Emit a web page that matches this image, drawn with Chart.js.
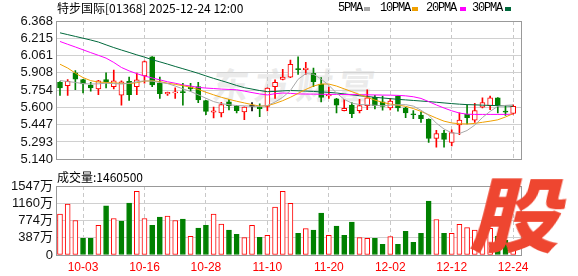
<!DOCTYPE html>
<html>
<head>
<meta charset="utf-8">
<script src="https://cdn.jsdelivr.net/npm/chart.js@4.4.1/dist/chart.umd.min.js"></script>
<style>
  body { margin: 0; width: 578px; height: 276px; background: #fff; position: relative; overflow: hidden;
         font-family: "Noto Sans CJK SC", "Liberation Sans", sans-serif; }
  .txt { position: absolute; font-size: 12px; color: #000; white-space: nowrap; line-height: 14px; }
  #title { left: 57px; top: 1px; }
  #legend { top: 1px; font-family: "Liberation Mono", monospace; letter-spacing: -1.2px; }
  #legend i { position: absolute; top: 6px; width: 6px; height: 4px; }
  #vol { left: 57px; top: 170px; }
  #wm { position: absolute; left: 213px; top: 64px; font-size: 36px; line-height: 1.1; color: #ebebeb; font-weight: bold;
        letter-spacing: 6px; transform: skewX(-8deg); }
  #logo { position: absolute; left: 468px; top: 170px; font-size: 80px; line-height: 1; color: #ee4630; font-weight: 900;
          transform: skewX(-14deg) scaleX(1.12); transform-origin: left bottom; }
  .box { position: absolute; left: 0; width: 578px; }
</style>
</head>
<body>
<div id="wm">东方财富</div>
<div class="box" style="top:0;height:170px"><canvas id="priceChart" width="578" height="170"></canvas></div>
<div class="box" style="top:170px;height:106px"><canvas id="volChart" width="578" height="106"></canvas></div>
<div id="title" class="txt">特步国际[01368] 2025-12-24 12:00</div>
<div class="txt" id="legend" style="left:0">
  <span class="txt" style="left:338px">5PMA</span><i style="left:364px;background:#a8a8a8"></i>
  <span class="txt" style="left:380px">10PMA</span><i style="left:412px;background:#f0a000"></i>
  <span class="txt" style="left:426px">20PMA</span><i style="left:460px;background:#ff00ff"></i>
  <span class="txt" style="left:472px">30PMA</span><i style="left:505px;background:#00693c"></i>
</div>
<div id="vol" class="txt">成交量:1460500</div>
<div id="logo">股</div>
<script>
// 交易日
const dates = ['09-29','09-30','10-02','10-03','10-06','10-08','10-09','10-10','10-13','10-14',
  '10-15','10-16','10-17','10-20','10-21','10-22','10-23','10-24','10-27','10-28',
  '10-30','10-31','11-03','11-04','11-05','11-06','11-07','11-10','11-11','11-12',
  '11-13','11-14','11-17','11-18','11-19','11-20','11-21','11-24','11-25','11-26',
  '11-27','11-28','12-01','12-02','12-03','12-04','12-05','12-08','12-09','12-10',
  '12-11','12-12','12-15','12-16','12-17','12-18','12-19','12-22','12-23','12-24'];

const open = [5.822,5.794,5.907,5.848,5.799,5.765,5.848,5.785,5.708,5.831,
  5.785,5.879,6.050,5.816,5.720,5.730,5.740,5.780,5.785,5.660,
  5.558,5.552,5.649,5.615,5.561,5.609,5.603,5.609,5.785,5.848,
  5.870,5.944,5.936,5.902,5.808,5.703,5.677,5.572,5.620,5.572,
  5.615,5.689,5.649,5.595,5.700,5.595,5.544,5.532,5.495,5.325,
  5.373,5.288,5.444,5.538,5.487,5.603,5.615,5.686,5.566,5.546];
const high = [5.830,5.848,5.927,5.850,5.822,5.840,5.907,5.933,5.836,5.870,
  5.905,6.013,6.052,5.870,5.736,5.774,5.814,5.814,5.822,5.662,
  5.603,5.646,5.672,5.618,5.605,5.643,5.632,5.774,5.845,5.939,
  6.021,6.050,6.001,5.950,5.865,5.780,5.680,5.672,5.643,5.672,
  5.757,5.708,5.700,5.680,5.702,5.600,5.572,5.558,5.498,5.396,
  5.396,5.401,5.552,5.623,5.637,5.686,5.700,5.688,5.615,5.623];
const low = [5.706,5.706,5.757,5.728,5.745,5.714,5.774,5.765,5.620,5.663,
  5.714,5.816,5.785,5.680,5.706,5.680,5.620,5.745,5.643,5.535,
  5.507,5.515,5.578,5.552,5.492,5.569,5.518,5.569,5.680,5.845,
  5.865,5.893,5.893,5.785,5.649,5.680,5.552,5.570,5.509,5.552,
  5.581,5.586,5.575,5.578,5.566,5.509,5.501,5.467,5.288,5.248,
  5.248,5.259,5.359,5.453,5.467,5.595,5.581,5.552,5.529,5.541];
const close = [5.774,5.831,5.851,5.808,5.774,5.836,5.828,5.836,5.828,5.714,
  5.845,6.007,5.799,5.723,5.734,5.738,5.731,5.765,5.666,5.565,
  5.570,5.626,5.615,5.572,5.603,5.609,5.589,5.771,5.822,5.870,
  5.984,5.936,5.950,5.828,5.689,5.717,5.620,5.592,5.544,5.617,
  5.686,5.615,5.609,5.657,5.595,5.552,5.535,5.501,5.325,5.367,
  5.316,5.376,5.487,5.509,5.572,5.643,5.686,5.615,5.558,5.609];

const ma5 = [5.839,5.830,5.822,5.812,5.808,5.810,5.815,5.812,5.808,5.815,
  5.828,5.836,5.834,5.822,5.812,5.790,5.765,5.742,5.712,5.682,
  5.652,5.634,5.624,5.617,5.614,5.611,5.609,5.617,5.648,5.690,
  5.750,5.850,5.900,5.895,5.852,5.797,5.728,5.672,5.638,5.626,
  5.623,5.619,5.615,5.620,5.623,5.625,5.612,5.575,5.530,5.460,
  5.408,5.374,5.368,5.395,5.443,5.510,5.565,5.610,5.618,5.623];
const ma10 = [5.984,5.950,5.905,5.865,5.838,5.825,5.822,5.818,5.814,5.812,
  5.820,5.834,5.836,5.830,5.815,5.805,5.793,5.780,5.760,5.735,
  5.712,5.690,5.672,5.655,5.640,5.625,5.612,5.615,5.635,5.660,
  5.690,5.725,5.760,5.790,5.808,5.808,5.790,5.765,5.740,5.715,
  5.690,5.665,5.645,5.630,5.620,5.610,5.590,5.565,5.535,5.505,
  5.478,5.462,5.455,5.453,5.458,5.468,5.478,5.490,5.515,5.545];
const ma20 = [6.186,6.161,6.137,6.112,6.087,6.063,6.038,6.000,5.955,5.925,
  5.900,5.879,5.862,5.845,5.828,5.815,5.800,5.790,5.778,5.772,
  5.768,5.763,5.760,5.757,5.745,5.732,5.720,5.711,5.722,5.728,
  5.725,5.720,5.719,5.718,5.717,5.716,5.716,5.715,5.714,5.713,
  5.712,5.711,5.710,5.709,5.707,5.703,5.695,5.680,5.652,5.622,
  5.595,5.570,5.550,5.540,5.538,5.538,5.538,5.538,5.538,5.540];
const ma30 = [6.263,6.247,6.231,6.215,6.199,6.181,6.156,6.132,6.110,6.089,
  6.067,6.047,6.024,6.005,5.985,5.964,5.944,5.924,5.903,5.880,
  5.858,5.838,5.817,5.795,5.776,5.763,5.750,5.740,5.742,5.747,
  5.750,5.748,5.745,5.742,5.738,5.734,5.728,5.720,5.712,5.704,
  5.697,5.690,5.684,5.678,5.672,5.667,5.662,5.657,5.652,5.646,
  5.640,5.634,5.629,5.625,5.623,5.620,5.618,5.616,5.614,5.610];

// 成交量(万股)，volUp: 1 = 收盘高于前一日(红)，0 = 低于(绿)
const volume = [916,1141,773,375,375,668,1104,818,758,1164,
  1427,818,668,848,871,773,803,420,601,668,
  916,691,556,466,390,668,398,443,1074,1427,
  1157,488,593,556,939,443,646,443,736,390,
  375,375,240,413,240,533,285,488,1209,796,
  488,488,688,614,560,530,600,420,330,146];
const volUp = [1,1,1,0,0,1,0,1,0,0, 1,1,0,0,1,1,0,1,0,0,
  1,1,0,0,1,1,0,1,1,1, 1,0,1,0,0,1,0,0,0,1,
  1,0,0,1,0,0,0,0,0,1, 0,1,1,1,1,1,1,0,0,1];

const priceTicks = [5.140,5.293,5.447,5.600,5.754,5.908,6.061,6.215,6.368];
const volTicks = [0,387,774,1160,1547];
const dateTicks = [3,11,19,27,35,43,51,59];

const RED = '#ff0000', GREEN = '#008000';
const upColor = (o, c) => c > o ? RED : (c < o ? GREEN : '#000');

const frame = {
  id: 'frame',
  beforeDatasetsDraw(chart) {
    const { ctx, chartArea: a } = chart;
    ctx.save();
    ctx.strokeStyle = '#999';
    ctx.lineWidth = 1;
    ctx.strokeRect(Math.round(a.left) + 0.5, Math.round(a.top) + 0.5,
                   Math.round(a.right - a.left) - 1, Math.round(a.bottom - a.top));
    ctx.restore();
  }
};

function xAxis(showLabels) {
  return {
    type: 'linear', min: -0.52, max: 60.15, offset: false,
    afterBuildTicks: s => { s.ticks = dateTicks.map(v => ({ value: v })); },
    afterFit: s => { s.height = showLabels ? 21 : 0; s.paddingLeft = 0; s.paddingRight = 0; },
    grid: { color: '#c8c8c8', drawTicks: false, offset: false },
    border: { display: false, dash: [4, 3] },
    ticks: {
      display: showLabels, padding: 5, maxRotation: 0, autoSkip: false,
      color: RED, font: { family: 'Liberation Sans', size: 12 },
      callback: v => dates[v]
    }
  };
}

function yAxis(min, max, ticks, fmt) {
  return {
    type: 'linear', min: min, max: max,
    afterBuildTicks: s => { s.ticks = ticks.map(v => ({ value: v })); },
    afterFit: s => { s.width = 56; },
    grid: { color: '#d0d0d0', drawTicks: false },
    border: { display: false },
    ticks: { padding: 3, autoSkip: false, color: '#111',
             font: { family: "'Liberation Sans', 'Noto Sans CJK SC'", size: 13 }, callback: fmt }
  };
}

const idx = dates.map((d, i) => i);
const maLine = (vals, color) => ({
  type: 'line', data: idx.map(i => ({ x: i, y: vals[i] })), borderColor: color,
  borderWidth: 1, pointRadius: 0, tension: 0, order: 0
});

new Chart(document.getElementById('priceChart'), {
  type: 'bar',
  data: {
    datasets: [
      maLine(ma5, '#a8a8a8'),
      maLine(ma10, '#f0a000'),
      maLine(ma20, '#ff00ff'),
      maLine(ma30, '#00693c'),
      {
        data: idx.map(i => ({ x: i, y: [open[i], close[i]] })),
        backgroundColor: idx.map(i => close[i] > open[i] ? '#fff' : upColor(open[i], close[i])),
        borderColor: idx.map(i => upColor(open[i], close[i])),
        borderWidth: 1, borderSkipped: false, barThickness: 5, minBarLength: 1,
        grouped: false, order: 1
      },
      {
        data: idx.map(i => ({ x: i, y: [low[i], high[i]] })),
        backgroundColor: idx.map(i => upColor(open[i], close[i])),
        borderWidth: 0, barThickness: 1, grouped: false, order: 2
      }
    ]
  },
  options: {
    responsive: false, animation: false,
    layout: { autoPadding: false, padding: { left: 0, right: 56, top: 21, bottom: 5 } },
    plugins: { legend: { display: false }, tooltip: { enabled: false } },
    scales: {
      x: xAxis(false),
      y: yAxis(5.140, 6.368, priceTicks, v => v.toFixed(3))
    }
  },
  plugins: [frame]
});

new Chart(document.getElementById('volChart'), {
  type: 'bar',
  data: {
    datasets: [{
      data: idx.map(i => ({ x: i, y: volume[i] })),
      backgroundColor: idx.map(i => volUp[i] ? '#fff' : GREEN),
      borderColor: idx.map(i => volUp[i] ? RED : GREEN),
      borderWidth: 1, borderSkipped: false, barThickness: 5
    }]
  },
  options: {
    responsive: false, animation: false,
    layout: { autoPadding: false, padding: { left: 0, right: 56, top: 16, bottom: 0 } },
    plugins: { legend: { display: false }, tooltip: { enabled: false } },
    scales: {
      x: xAxis(true),
      y: yAxis(0, 1547, volTicks, v => v === 0 ? '0' : v + '万')
    }
  },
  plugins: [frame]
});
</script>
</body>
</html>
